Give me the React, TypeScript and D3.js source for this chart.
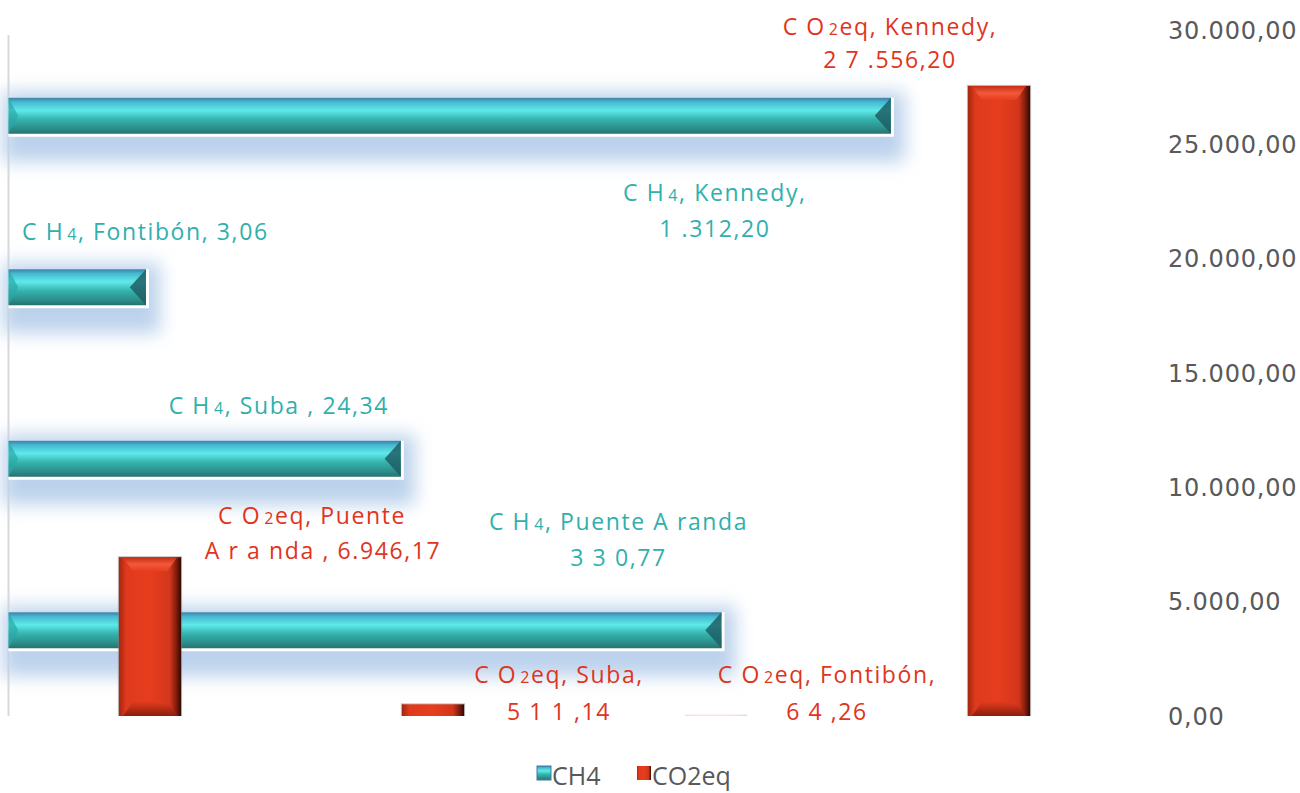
import React from "react";
import * as d3 from "d3";

const categories = ["Puente Aranda", "Suba", "Fontibón", "Kennedy"];
const ch4Values = [330.77, 24.34, 3.06, 1312.2];
const co2Values = [6946.17, 511.14, 64.26, 27556.2];
const ch4Text = ["3 3 0,77", "24,34", "3,06", "1 .312,20"];
const co2Text = ["6.946,17", "5 1 1 ,14", "6 4 ,26", "2 7 .556,20"];
const yTicks = [0, 5000, 10000, 15000, 20000, 25000, 30000];

const W = 1300;
const H = 793;
const left = 8.5;
const right = 1140.5;
const top = 30;
const bottom = 716;

const TEAL = "#2fb0ad";
const RED = "#e0341c";
const GRAY = "#595959";
const FONT = "'Open Sans', 'DejaVu Sans', sans-serif";

function Sub({ pre, sub, post }: { pre: string; sub: string; post: string }) {
  return (
    <>
      <tspan>{pre}</tspan>
      <tspan fontSize="16" dx="3">{sub}</tspan>
      <tspan>{post}</tspan>
    </>
  );
}

export default function App() {
  const xLog = d3.scaleLog().domain([1, 10000]).range([left, right]);
  const xBand = d3.scaleBand<string>().domain(categories).range([left, right]).paddingInner(0.78).paddingOuter(0.39);
  const yBand = d3.scaleBand<string>().domain([...categories].reverse()).range([top, bottom]).paddingInner(0.79).paddingOuter(0.395);
  const yLin = d3.scaleLinear().domain([0, 30000]).range([bottom, top]);
  const fmt = (v: number) => {
    const s = d3.format(",.2f")(v);
    return s.replace(/,/g, "#").replace(".", ",").replace(/#/g, ".");
  };

  const bandW = xBand.bandwidth();
  const barH = yBand.bandwidth();

  const ch4Labels = categories.map((c, i) => {
    const xe = xLog(ch4Values[i]);
    const yc = (yBand(c) as number) + barH / 2;
    return { c, i, xe, yc };
  });
  const co2Labels = categories.map((c, i) => {
    const xc = (xBand(c) as number) + bandW / 2;
    const yt = yLin(co2Values[i]);
    return { c, i, xc, yt };
  });

  return (
    <svg width={W} height={H} style={{ position: "absolute", left: 0, top: 0, background: "#fff" }} fontFamily={FONT}>
      <defs>
        <linearGradient id="tealG" x1="0" y1="0" x2="0" y2="1">
          <stop offset="0" stopColor="#3d7fa6" />
          <stop offset="0.12" stopColor="#46b9d0" />
          <stop offset="0.35" stopColor="#5eeaea" />
          <stop offset="0.6" stopColor="#35b3ad" />
          <stop offset="0.85" stopColor="#2c8e8b" />
          <stop offset="1" stopColor="#27716f" />
        </linearGradient>
        <linearGradient id="redG" x1="0" y1="0" x2="1" y2="0">
          <stop offset="0" stopColor="#a3260f" />
          <stop offset="0.12" stopColor="#df3a1d" />
          <stop offset="0.5" stopColor="#e63d1e" />
          <stop offset="0.82" stopColor="#d2361b" />
          <stop offset="0.93" stopColor="#7a1a0a" />
          <stop offset="1" stopColor="#2d0803" />
        </linearGradient>
        <linearGradient id="redTop" x1="0" y1="0" x2="0" y2="1">
          <stop offset="0" stopColor="#c42d14" />
          <stop offset="0.5" stopColor="#f2593a" />
          <stop offset="1" stopColor="#e63d1e" />
        </linearGradient>
        <linearGradient id="redBot" x1="0" y1="0" x2="0" y2="1">
          <stop offset="0" stopColor="#e03a1e" />
          <stop offset="1" stopColor="#8a1f0c" />
        </linearGradient>
        <filter id="glow" x="-10%" y="-100%" width="120%" height="300%">
          <feGaussianBlur stdDeviation="9" />
        </filter>
      </defs>

      <line x1={left} x2={left} y1={35} y2={bottom} stroke="#d9d9d9" strokeWidth={2} />

      {categories.map((c, i) => {
        const y = yBand(c) as number;
        const xe = xLog(ch4Values[i]);
        return (
          <rect key={"g" + c} x={left - 6} y={y - 6} width={xe - left + 20} height={barH + 34} fill="#bcd2ec" filter="url(#glow)" />
        );
      })}

      {categories.map((c, i) => {
        const y = yBand(c) as number;
        const xe = xLog(ch4Values[i]);
        const b = barH * 0.45;
        return (
          <g key={"t" + c}>
            <rect x={left} y={y} width={xe - left + 3} height={barH + 3} fill="#ffffff" />
            <rect x={left} y={y} width={xe - left} height={barH} fill="url(#tealG)" />
            <polygon points={`${xe},${y} ${xe},${y + barH} ${xe - b},${y + barH / 2}`} fill="#1f5f66" opacity={0.85} />
            <polygon points={`${left},${y} ${left + b * 0.6},${y + barH / 2} ${left},${y + barH}`} fill="#2aa8a8" opacity={0.7} />
          </g>
        );
      })}

      {categories.map((c, i) => {
        const x = xBand(c) as number;
        const y = yLin(co2Values[i]);
        const h = bottom - y;
        const bev = Math.min(14, h / 2);
        return (
          <g key={"r" + c}>
            {h > 3 && <rect x={x - 1} y={y - 1} width={bandW + 2} height={h + 1} fill="#8a8a8a" opacity={0.5} />}
            <rect x={x} y={y} width={bandW} height={h} fill="url(#redG)" opacity={h > 3 ? 1 : 0.15} />
            {h > 20 && (
              <>
                <polygon points={`${x + 4},${y} ${x + bandW - 4},${y} ${x + bandW - 14},${y + bev} ${x + 14},${y + bev}`} fill="url(#redTop)" />
                <polygon points={`${x + 14},${bottom - bev} ${x + bandW - 14},${bottom - bev} ${x + bandW - 4},${bottom} ${x + 4},${bottom}`} fill="url(#redBot)" />
              </>
            )}
          </g>
        );
      })}

      {yTicks.map((t) => (
        <text key={t} x={1168} y={yLin(t)} dy="0.36em" fontSize={24} fill={GRAY} fontFamily="'DejaVu Sans', sans-serif" letterSpacing="0.8">
          {fmt(t)}
        </text>
      ))}

      <g fill={TEAL} fontSize={23} letterSpacing="1.6">
        <text x={ch4Labels[3].xe - 176} y={ch4Labels[3].yc + 85} textAnchor="middle">
          <Sub pre="C H" sub="4" post={", Kennedy,"} />
        </text>
        <text x={ch4Labels[3].xe - 176} y={ch4Labels[3].yc + 121} textAnchor="middle">
          {ch4Text[3]}
        </text>
        <text x={22} y={ch4Labels[2].yc - 47} textAnchor="start">
          <Sub pre="C H" sub="4" post={", Fontibón, " + ch4Text[2]} />
        </text>
        <text x={ch4Labels[1].xe - 122} y={ch4Labels[1].yc - 45} textAnchor="middle">
          <Sub pre="C H" sub="4" post={", Suba , " + ch4Text[1]} />
        </text>
        <text x={ch4Labels[0].xe - 103} y={ch4Labels[0].yc - 100} textAnchor="middle">
          <Sub pre="C H" sub="4" post={", Puente A randa"} />
        </text>
        <text x={ch4Labels[0].xe - 103} y={ch4Labels[0].yc - 64} textAnchor="middle">
          {ch4Text[0]}
        </text>
      </g>

      <g fill={RED} fontSize={23} letterSpacing="1.6">
        <text x={co2Labels[3].xc - 109} y={35} textAnchor="middle">
          <Sub pre="C O" sub="2" post={"eq, Kennedy,"} />
        </text>
        <text x={co2Labels[3].xc - 109} y={68} textAnchor="middle">
          {co2Text[3]}
        </text>
        <text x={co2Labels[0].xc + 162} y={co2Labels[0].yt - 33} textAnchor="middle">
          <Sub pre="C O" sub="2" post={"eq, Puente"} />
        </text>
        <text x={co2Labels[0].xc + 173} y={co2Labels[0].yt + 2} textAnchor="middle">
          {"A r a nda , " + co2Text[0]}
        </text>
        <text x={co2Labels[1].xc + 126} y={683} textAnchor="middle">
          <Sub pre="C O" sub="2" post={"eq, Suba,"} />
        </text>
        <text x={co2Labels[1].xc + 126} y={720} textAnchor="middle">
          {co2Text[1]}
        </text>
        <text x={co2Labels[2].xc + 111} y={683} textAnchor="middle">
          <Sub pre="C O" sub="2" post={"eq, Fontibón,"} />
        </text>
        <text x={co2Labels[2].xc + 111} y={720} textAnchor="middle">
          {co2Text[2]}
        </text>
      </g>

      <g fontSize={25} fill={GRAY}>
        <rect x={537} y={766} width={14} height={14} fill="url(#tealG)" stroke="#3d7fa6" strokeWidth={1} />
        <text x={552} y={785}>CH4</text>
        <rect x={637} y={766} width={14} height={14} fill="url(#redG)" />
        <text x={652} y={785}>CO2eq</text>
      </g>
    </svg>
  );
}
